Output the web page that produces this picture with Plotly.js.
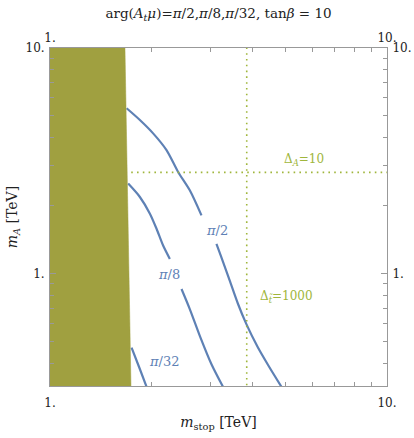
<!DOCTYPE html>
<html>
<head>
<meta charset="utf-8">
<script src="https://cdn.plot.ly/plotly-3.0.1.min.js"></script>
<style>html,body{margin:0;padding:0;background:#fff;}#chart{width:414px;height:438px;}</style>
</head>
<body>
<div id="chart"></div>
<script>
// ---- data (TeV) ----
var piHalf_mstop = [1.688, 1.848, 2.023, 2.217, 2.400, 2.599, 2.815, null, 3.118, 3.212, 3.415, 3.614, 3.826, 4.133, 4.455, 4.886];
var piHalf_mA    = [5.403, 4.792, 4.180, 3.523, 2.818, 2.336, 1.808, null, 1.352, 1.199, 0.928, 0.731, 0.595, 0.471, 0.388, 0.310];
var piEighth_mstop = [1.706, 1.848, 1.979, 2.071, 2.166, 2.268, null, 2.456, 2.599, 2.783, 3.014, 3.275];
var piEighth_mA    = [2.502, 2.182, 1.840, 1.577, 1.329, 1.159, null, 0.852, 0.694, 0.528, 0.395, 0.310];
var pi32_mstop = [1.746, 1.838, 1.940];
var pi32_mA    = [0.468, 0.384, 0.310];
var excluded_mstop = [1.0, 1.74, 1.668, 1.0];
var excluded_mA    = [0.30, 0.30, 10.5, 10.5];
var deltaA_mA = 2.805;        // Delta_A = 10
var deltaT_mstop = 3.835;     // Delta_stop = 1000
var xRange = [1, 10];
var yRange = [Math.pow(10, -0.5), 10];
var majorTicks = [1, 10];
var majorText = ["1.", "10."];
var xMinor = [2, 3, 4, 5, 6, 7, 8, 9];
var yMinor = [0.4, 0.5, 0.6, 0.7, 0.8, 0.9, 2, 3, 4, 5, 6, 7, 8, 9];

var blue = 'rgb(94,129,181)';
var olive = 'rgb(160,160,64)';
var green = 'rgb(160,182,60)';
var serif = 'DejaVu Serif, Liberation Serif, serif';

var lineStyle = {color: blue, width: 2.2, shape: 'spline', smoothing: 0.8};
var dotStyle = {color: green, width: 1.6, dash: '1.6px,4.2px'};
var traces = [
  {x: piHalf_mstop, y: piHalf_mA, mode: 'lines', line: lineStyle, connectgaps: false, hoverinfo: 'skip'},
  {x: piEighth_mstop, y: piEighth_mA, mode: 'lines', line: lineStyle, connectgaps: false, hoverinfo: 'skip'},
  {x: pi32_mstop, y: pi32_mA, mode: 'lines', line: lineStyle, hoverinfo: 'skip'},
  {x: [xRange[0], xRange[1]], y: [deltaA_mA, deltaA_mA], mode: 'lines', line: dotStyle, hoverinfo: 'skip'},
  {x: [deltaT_mstop, deltaT_mstop], y: [0.3, 10.5], mode: 'lines', line: dotStyle, hoverinfo: 'skip'},
  {x: excluded_mstop, y: excluded_mA, mode: 'lines', fill: 'toself', fillcolor: olive, line: {color: olive, width: 0.5}, hoverinfo: 'skip'},
  {x: [xRange[0]], y: [yRange[1]], xaxis: 'x2', yaxis: 'y2', mode: 'markers', marker: {opacity: 0}, hoverinfo: 'skip'}
];

function axisBase(extra) {
  var a = {
    type: 'log', showgrid: false, zeroline: false,
    showline: true, linecolor: '#999', linewidth: 1,
    ticks: 'inside', ticklen: 6, tickcolor: '#999', tickwidth: 1,
    tickvals: majorTicks, ticktext: majorText,
    tickfont: {family: serif, size: 12, color: '#222'}
  };
  for (var k in extra) a[k] = extra[k];
  return a;
}

var lr = function (r) { return [Math.log10(r[0]), Math.log10(r[1])]; };
function ann(text, px, py, size, color) {
  return {text: text, x: (px - 50) / 337.5, y: (385.5 - py) / 337.2, xref: 'paper', yref: 'paper',
          xanchor: 'center', yanchor: 'middle', showarrow: false,
          font: {family: serif, size: size, color: color}};
}

var layout = {
  width: 414, height: 438,
  margin: {l: 50, r: 27, t: 48, b: 52, pad: 0},
  paper_bgcolor: '#fff', plot_bgcolor: '#fff',
  showlegend: false,
  font: {family: serif, color: '#222'},
  title: {
    text: 'arg(<i>A<sub>t</sub>μ</i>)=<i>π</i>/2,<i>π</i>/8,<i>π</i>/32, tan<i>β</i> = 10',
    font: {family: serif, size: 13.5, color: '#222'},
    x: 0.5, xref: 'paper', y: 1 - 13 / 438, yref: 'container', yanchor: 'middle'
  },
  xaxis: axisBase({
    range: lr(xRange), side: 'bottom', anchor: 'y',
    minor: {tickvals: xMinor, ticks: 'inside', ticklen: 4, tickcolor: '#999'},
    ticklabelstandoff: 6,
    title: {text: '<i>m</i><sub>stop</sub> [TeV]', font: {family: serif, size: 14, color: '#222'}, standoff: 7}
  }),
  yaxis: axisBase({
    range: lr(yRange), side: 'left', anchor: 'x',
    minor: {tickvals: yMinor, ticks: 'inside', ticklen: 4, tickcolor: '#999'},
    ticklabelstandoff: 2,
    title: {text: '<i>m<sub>A</sub></i> [TeV]', font: {family: serif, size: 14, color: '#222'}, standoff: 4}
  }),
  xaxis2: axisBase({
    range: lr(xRange), side: 'top', overlaying: 'x', anchor: 'y',
    minor: {tickvals: xMinor, ticks: 'inside', ticklen: 4, tickcolor: '#999'},
    ticklabelstandoff: 0
  }),
  yaxis2: axisBase({
    range: lr(yRange), side: 'right', overlaying: 'y', anchor: 'x',
    minor: {tickvals: yMinor, ticks: 'inside', ticklen: 4, tickcolor: '#999'},
    ticklabelstandoff: 2
  }),
  annotations: [
    ann('<i>π</i>/2', 217, 230, 13, blue),
    ann('<i>π</i>/8', 169, 274, 13, blue),
    ann('<i>π</i>/32', 164, 361, 13, blue),
    ann('Δ<sub><i>A</i></sub>=10', 304, 160, 12, green),
    ann('Δ<sub><i>t\u0303</i></sub>=1000', 287, 297, 12, green)
  ]
};

Plotly.newPlot('chart', traces, layout, {staticPlot: true, displayModeBar: false});
</script>
</body>
</html>
